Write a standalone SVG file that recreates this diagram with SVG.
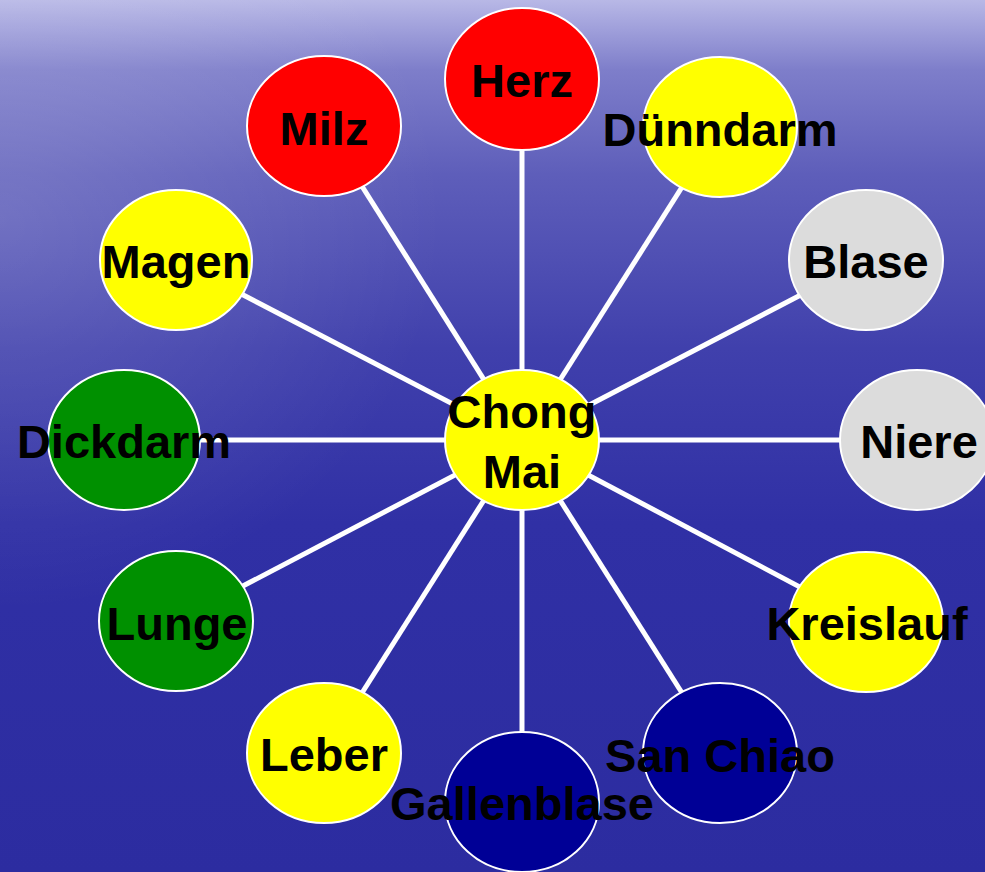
<svg xmlns="http://www.w3.org/2000/svg" width="985" height="872" viewBox="0 0 985 872">
<defs>
<linearGradient id="bg" x1="0" y1="0" x2="0" y2="1">
<stop offset="0" stop-color="#b8b8e6"/>
<stop offset="0.03" stop-color="#a2a2dc"/>
<stop offset="0.08" stop-color="#7e7eca"/>
<stop offset="0.2" stop-color="#5e5eba"/>
<stop offset="0.4" stop-color="#4040ac"/>
<stop offset="0.6" stop-color="#3030a5"/>
<stop offset="1" stop-color="#2c2ca0"/>
</linearGradient>
<radialGradient id="glow" cx="0" cy="0.25" r="0.45" gradientTransform="translate(0,0) scale(1,1)">
<stop offset="0" stop-color="#ffffff" stop-opacity="0.16"/>
<stop offset="1" stop-color="#ffffff" stop-opacity="0"/>
</radialGradient>
<style>
.n{stroke:#ffffff;stroke-width:2}
.red{fill:#ff0000}.yel{fill:#ffff00}.gry{fill:#dcdcdc}.grn{fill:#009000}.nav{fill:#000096}
.t{font-family:"Liberation Sans",Arial,sans-serif;font-weight:bold;font-size:47px;fill:#000000;text-anchor:middle}
#connectors line{stroke:#ffffff;stroke-width:5}
</style>
</defs>
<rect width="985" height="872" fill="url(#bg)"/>
<rect width="985" height="872" fill="url(#glow)"/>
<g id="connectors">
<line x1="522" y1="440" x2="522" y2="79"/>
<line x1="522" y1="440" x2="720" y2="127"/>
<line x1="522" y1="440" x2="866" y2="261"/>
<line x1="522" y1="440" x2="916" y2="440"/>
<line x1="522" y1="440" x2="866" y2="622"/>
<line x1="522" y1="440" x2="720" y2="753"/>
<line x1="522" y1="440" x2="522" y2="802"/>
<line x1="522" y1="440" x2="324" y2="753"/>
<line x1="522" y1="440" x2="176" y2="621"/>
<line x1="522" y1="440" x2="124" y2="440"/>
<line x1="522" y1="440" x2="176" y2="260"/>
<line x1="522" y1="440" x2="324" y2="126"/>
</g>
<g id="herz"><ellipse class="n red" cx="522" cy="79" rx="77" ry="71"/><text class="t" x="522" y="97">Herz</text></g>
<g id="duenndarm"><ellipse class="n yel" cx="720" cy="127" rx="77" ry="70"/><text class="t" x="720" y="146">Dünndarm</text></g>
<g id="blase"><ellipse class="n gry" cx="866" cy="260" rx="77" ry="70"/><text class="t" x="866" y="278">Blase</text></g>
<g id="niere"><ellipse class="n gry" cx="917" cy="440" rx="77" ry="70"/><text class="t" x="919" y="458">Niere</text></g>
<g id="kreislauf"><ellipse class="n yel" cx="866" cy="622" rx="77" ry="70"/><text class="t" x="867" y="640">Kreislauf</text></g>
<g id="sanchiao"><ellipse class="n nav" cx="720" cy="753" rx="77" ry="70"/><text class="t" x="720" y="772">San Chiao</text></g>
<g id="gallenblase"><ellipse class="n nav" cx="522" cy="802" rx="77" ry="70"/><text class="t" x="522" y="820">Gallenblase</text></g>
<g id="leber"><ellipse class="n yel" cx="324" cy="753" rx="77" ry="70"/><text class="t" x="324" y="771">Leber</text></g>
<g id="lunge"><ellipse class="n grn" cx="176" cy="621" rx="77" ry="70"/><text class="t" x="177" y="640">Lunge</text></g>
<g id="dickdarm"><ellipse class="n grn" cx="124" cy="440" rx="76" ry="70"/><text class="t" x="124" y="458">Dickdarm</text></g>
<g id="magen"><ellipse class="n yel" cx="176" cy="260" rx="76" ry="70"/><text class="t" x="176" y="278">Magen</text></g>
<g id="milz"><ellipse class="n red" cx="324" cy="126" rx="77" ry="70"/><text class="t" x="324" y="145">Milz</text></g>
<g id="chongmai"><ellipse class="n yel" cx="522" cy="440" rx="77" ry="70"/><text class="t" x="522" y="428">Chong</text><text class="t" x="522" y="488">Mai</text></g>
</svg>
